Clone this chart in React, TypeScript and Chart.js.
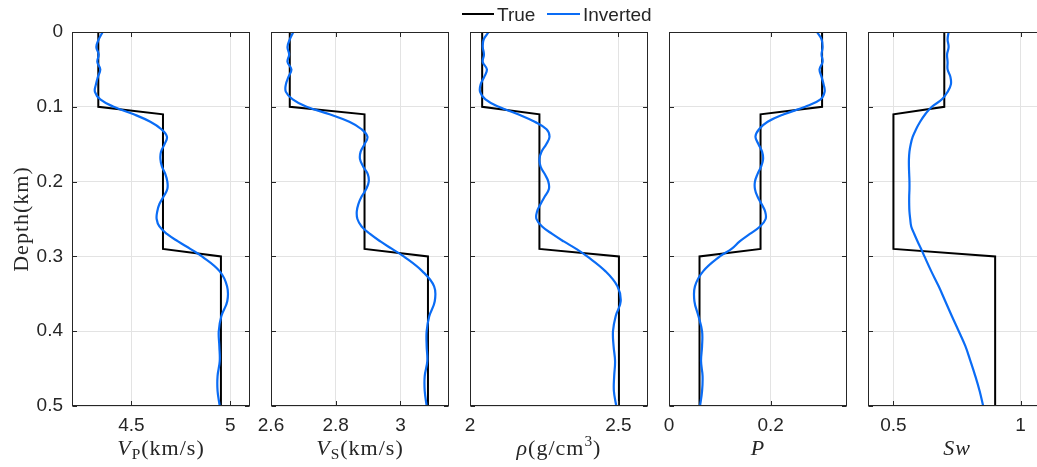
import React, { useEffect, useRef } from 'react';
import { Chart, registerables } from 'chart.js';

Chart.register(...registerables);

// ---------------- data ----------------
const depthTrue = [0, 0.1, 0.11, 0.29, 0.3, 0.5];
const depthInv = [
  0, 0.01, 0.02, 0.03, 0.04, 0.05, 0.06, 0.07, 0.08, 0.09, 0.1, 0.11, 0.12, 0.13, 0.14, 0.15, 0.16,
  0.17, 0.18, 0.19, 0.2, 0.21, 0.22, 0.23, 0.24, 0.25, 0.26, 0.27, 0.28, 0.29, 0.3, 0.32, 0.34,
  0.36, 0.38, 0.4, 0.42, 0.44, 0.46, 0.48, 0.5,
];

const vpTrue = [4.333, 4.333, 4.66, 4.66, 4.953, 4.953];
const vpInv = [
  4.355, 4.335, 4.323, 4.335, 4.328, 4.343, 4.331, 4.321, 4.316, 4.343, 4.411, 4.512, 4.596, 4.652,
  4.68, 4.668, 4.65, 4.647, 4.655, 4.672, 4.682, 4.682, 4.663, 4.642, 4.631, 4.628, 4.642, 4.68,
  4.736, 4.798, 4.857, 4.947, 4.984, 4.985, 4.955, 4.942, 4.945, 4.947, 4.936, 4.936, 4.947,
];

const vsTrue = [2.658, 2.658, 2.889, 2.889, 3.085, 3.085];
const vsInv = [
  2.669, 2.658, 2.651, 2.656, 2.651, 2.663, 2.654, 2.646, 2.646, 2.667, 2.71, 2.781, 2.842, 2.88,
  2.898, 2.889, 2.877, 2.875, 2.885, 2.899, 2.902, 2.894, 2.88, 2.87, 2.865, 2.867, 2.88, 2.906,
  2.938, 2.974, 3.01, 3.068, 3.104, 3.106, 3.089, 3.081, 3.081, 3.083, 3.075, 3.075, 3.081,
];

const rhoTrue = [2.041, 2.041, 2.234, 2.234, 2.502, 2.502];
const rhoInv = [
  2.063, 2.046, 2.043, 2.047, 2.043, 2.057, 2.048, 2.036, 2.034, 2.052, 2.097, 2.162, 2.218, 2.258,
  2.268, 2.257, 2.241, 2.234, 2.238, 2.252, 2.264, 2.266, 2.252, 2.238, 2.226, 2.224, 2.243, 2.277,
  2.316, 2.358, 2.395, 2.457, 2.497, 2.508, 2.491, 2.482, 2.484, 2.489, 2.486, 2.485, 2.493,
];

const pTrue = [0.301, 0.301, 0.18, 0.18, 0.06, 0.06];
const pInv = [
  0.291, 0.3, 0.302, 0.3, 0.302, 0.296, 0.3, 0.304, 0.306, 0.298, 0.268, 0.226, 0.194, 0.177, 0.17,
  0.176, 0.183, 0.185, 0.181, 0.174, 0.169, 0.169, 0.174, 0.182, 0.189, 0.19, 0.179, 0.159, 0.139,
  0.123, 0.1, 0.067, 0.051, 0.05, 0.058, 0.065, 0.065, 0.063, 0.066, 0.065, 0.061,
];

const swTrue = [0.7, 0.7, 0.5, 0.5, 0.9, 0.9];
const swInv = [
  0.717, 0.713, 0.717, 0.711, 0.713, 0.713, 0.724, 0.726, 0.713, 0.691, 0.651, 0.625, 0.605, 0.589,
  0.576, 0.568, 0.563, 0.561, 0.561, 0.562, 0.563, 0.563, 0.562, 0.562, 0.563, 0.566, 0.57, 0.582,
  0.595, 0.609, 0.622, 0.649, 0.678, 0.704, 0.73, 0.757, 0.783, 0.803, 0.822, 0.839, 0.853,
];

const depthTicks = [0, 0.1, 0.2, 0.3, 0.4, 0.5];
const depthTickLabels = ['0', '0.1', '0.2', '0.3', '0.4', '0.5'];
const vpTicks = [4.5, 5];
const vpTickLabels = ['4.5', '5'];
const vsTicks = [2.6, 2.8, 3];
const vsTickLabels = ['2.6', '2.8', '3'];
const rhoTicks = [2, 2.5];
const rhoTickLabels = ['2', '2.5'];
const pTicks = [0, 0.2];
const pTickLabels = ['0', '0.2'];
const swTicks = [0.5, 1];
const swTickLabels = ['0.5', '1'];

const seriesNames = ['True', 'Inverted'];

// ---------------- style / layout ----------------
const CW = 1060;
const CH = 467;
const PLOT_TOP = 32;
const PLOT_BOTTOM = 406;
const PANEL_W = 178;
const PANEL_LEFT = [72, 271, 470, 669, 868];
const Y_AXIS_W = 60;
const X_AXIS_H = 30;
const BLUE = '#0a6cf5';
const AXIS = '#262626';
const GRID = '#e3e3e3';
const SANS = '"Liberation Sans", Arial, Helvetica, sans-serif';
const SERIF = '"Liberation Serif", "Times New Roman", serif';

type Seg = { t: string; it?: boolean; sub?: boolean; sup?: boolean };

const panels = [
  { trueVals: vpTrue, invVals: vpInv, min: 4.2, max: 5.1, ticks: vpTicks, labels: vpTickLabels,
    title: [{ t: 'V', it: true }, { t: 'P', sub: true }, { t: '(km/s)' }] as Seg[] },
  { trueVals: vsTrue, invVals: vsInv, min: 2.6, max: 3.15, ticks: vsTicks, labels: vsTickLabels,
    title: [{ t: 'V', it: true }, { t: 'S', sub: true }, { t: '(km/s)' }] as Seg[] },
  { trueVals: rhoTrue, invVals: rhoInv, min: 2, max: 2.6, ticks: rhoTicks, labels: rhoTickLabels,
    title: [{ t: 'ρ', it: true }, { t: '(g/cm' }, { t: '3', sup: true }, { t: ')' }] as Seg[] },
  { trueVals: pTrue, invVals: pInv, min: 0, max: 0.35, ticks: pTicks, labels: pTickLabels,
    title: [{ t: 'P', it: true }] as Seg[] },
  { trueVals: swTrue, invVals: swInv, min: 0.4, max: 1.1, ticks: swTicks, labels: swTickLabels,
    title: [{ t: 'Sw', it: true }] as Seg[] },
];

function drawRich(ctx: CanvasRenderingContext2D, segs: Seg[], cx: number, baseline: number, size: number) {
  const parts = segs.map((s) => {
    const fs = s.sub || s.sup ? size * 0.7 : size;
    const font = `${s.it ? 'italic ' : ''}${fs}px ${SERIF}`;
    ctx.font = font;
    return { ...s, font, w: ctx.measureText(s.t).width };
  });
  const total = parts.reduce((a, p) => a + p.w, 0);
  let x = cx - total / 2;
  ctx.textAlign = 'left';
  ctx.textBaseline = 'alphabetic';
  for (const p of parts) {
    ctx.font = p.font;
    const dy = p.sub ? size * 0.2 : p.sup ? -size * 0.4 : 0;
    ctx.fillText(p.t, x, baseline + dy);
    x += p.w;
  }
}

function makeConfig(idx: number): any {
  const p = panels[idx];
  const left = PANEL_LEFT[idx];
  const right = left + PANEL_W;
  const yW = idx === 0 ? Y_AXIS_W : 0;
  const framePlugin = {
    id: 'frame' + idx,
    afterDatasetsDraw(chart: any) {
      const { ctx, chartArea: a, scales } = chart;
      const L = Math.round(a.left) + 0.5;
      const R = Math.round(a.right) - 0.5;
      const T = Math.round(a.top) + 0.5;
      const B = Math.round(a.bottom) - 0.5;
      const TL = 4.5;
      ctx.save();
      ctx.strokeStyle = AXIS;
      ctx.lineWidth = 1;
      ctx.beginPath();
      scales.x.ticks.forEach((t: any) => {
        const px = Math.round(scales.x.getPixelForValue(t.value)) + 0.5;
        ctx.moveTo(px, B);
        ctx.lineTo(px, B - TL);
        ctx.moveTo(px, T);
        ctx.lineTo(px, T + TL);
      });
      scales.y.ticks.forEach((t: any) => {
        const py = Math.round(scales.y.getPixelForValue(t.value)) + 0.5;
        ctx.moveTo(L, py);
        ctx.lineTo(L + TL, py);
        ctx.moveTo(R, py);
        ctx.lineTo(R - TL, py);
      });
      ctx.stroke();
      ctx.strokeRect(L, T, R - L, B - T);
      ctx.restore();
    },
    afterDraw(chart: any) {
      const { ctx, chartArea: a } = chart;
      ctx.save();
      ctx.fillStyle = AXIS;
      (ctx as any).letterSpacing = '1px';
      drawRich(ctx, p.title, (a.left + a.right) / 2, 455, 22);
      if (idx === 0) {
        ctx.translate(28, (a.top + a.bottom) / 2);
        ctx.rotate(-Math.PI / 2);
        drawRich(ctx, [{ t: 'Depth(km)' }], 0, 0, 22);
      }
      ctx.restore();
    },
  };

  return {
    type: 'scatter',
    data: {
      datasets: [
        {
          label: seriesNames[1],
          data: depthInv.map((d, i) => ({ x: p.invVals[i], y: d })),
          showLine: true,
          borderColor: BLUE,
          borderWidth: 2.2,
          pointRadius: 0,
          tension: 0.4,
          order: 0,
        },
        {
          label: seriesNames[0],
          data: depthTrue.map((d, i) => ({ x: p.trueVals[i], y: d })),
          showLine: true,
          borderColor: '#000000',
          borderWidth: 2,
          pointRadius: 0,
          tension: 0,
          order: 1,
        },
      ],
    },
    options: {
      responsive: false,
      animation: false,
      devicePixelRatio: 1,
      events: [],
      layout: {
        padding: {
          left: left - yW,
          right: CW - right,
          top: PLOT_TOP,
          bottom: CH - PLOT_BOTTOM - X_AXIS_H,
        },
      },
      plugins: { legend: { display: false }, tooltip: { enabled: false } },
      scales: {
        x: {
          type: 'linear',
          min: p.min,
          max: p.max,
          afterBuildTicks: (s: any) => {
            s.ticks = p.ticks.map((v) => ({ value: v }));
          },
          afterFit: (s: any) => {
            s.height = X_AXIS_H;
          },
          grid: { color: GRID, drawTicks: false, lineWidth: 1 },
          border: { display: false },
          ticks: {
            autoSkip: false,
            maxRotation: 0,
            minRotation: 0,
            padding: 8,
            color: AXIS,
            font: { family: SANS, size: 19 },
            callback: (_v: any, i: number) => p.labels[i],
          },
        },
        y: {
          type: 'linear',
          reverse: true,
          min: 0,
          max: 0.5,
          afterBuildTicks: (s: any) => {
            s.ticks = depthTicks.map((v) => ({ value: v }));
          },
          afterFit: (s: any) => {
            s.width = yW;
          },
          grid: { color: GRID, drawTicks: false, lineWidth: 1 },
          border: { display: false },
          ticks: {
            display: idx === 0,
            autoSkip: false,
            padding: 9,
            color: AXIS,
            font: { family: SANS, size: 19 },
            callback: (_v: any, i: number) => depthTickLabels[i],
          },
        },
      },
    },
    plugins: [framePlugin],
  };
}

export default function App() {
  const refs = useRef<(HTMLCanvasElement | null)[]>([]);

  useEffect(() => {
    const charts = panels.map((_p, i) => new Chart(refs.current[i] as HTMLCanvasElement, makeConfig(i)));
    return () => charts.forEach((c) => c.destroy());
  }, []);

  const legendText: React.CSSProperties = {
    position: 'absolute',
    top: 5,
    fontFamily: SANS,
    fontSize: 19,
    lineHeight: '19px',
    color: AXIS,
    whiteSpace: 'nowrap',
  };

  return (
    <div
      style={{
        position: 'fixed',
        left: 0,
        top: 0,
        width: 1037,
        height: 467,
        overflow: 'hidden',
        background: '#ffffff',
      }}
    >
      {panels.map((_p, i) => (
        <canvas
          key={i}
          ref={(el) => {
            refs.current[i] = el;
          }}
          width={CW}
          height={CH}
          style={{ position: 'absolute', left: 0, top: 0, width: CW, height: CH }}
        />
      ))}
      <div style={{ position: 'absolute', left: 462, top: 13, width: 32, height: 2, background: '#000' }} />
      <span style={{ ...legendText, left: 497 }}>{seriesNames[0]}</span>
      <div style={{ position: 'absolute', left: 547, top: 13, width: 33, height: 2, background: BLUE }} />
      <span style={{ ...legendText, left: 583 }}>{seriesNames[1]}</span>
    </div>
  );
}
